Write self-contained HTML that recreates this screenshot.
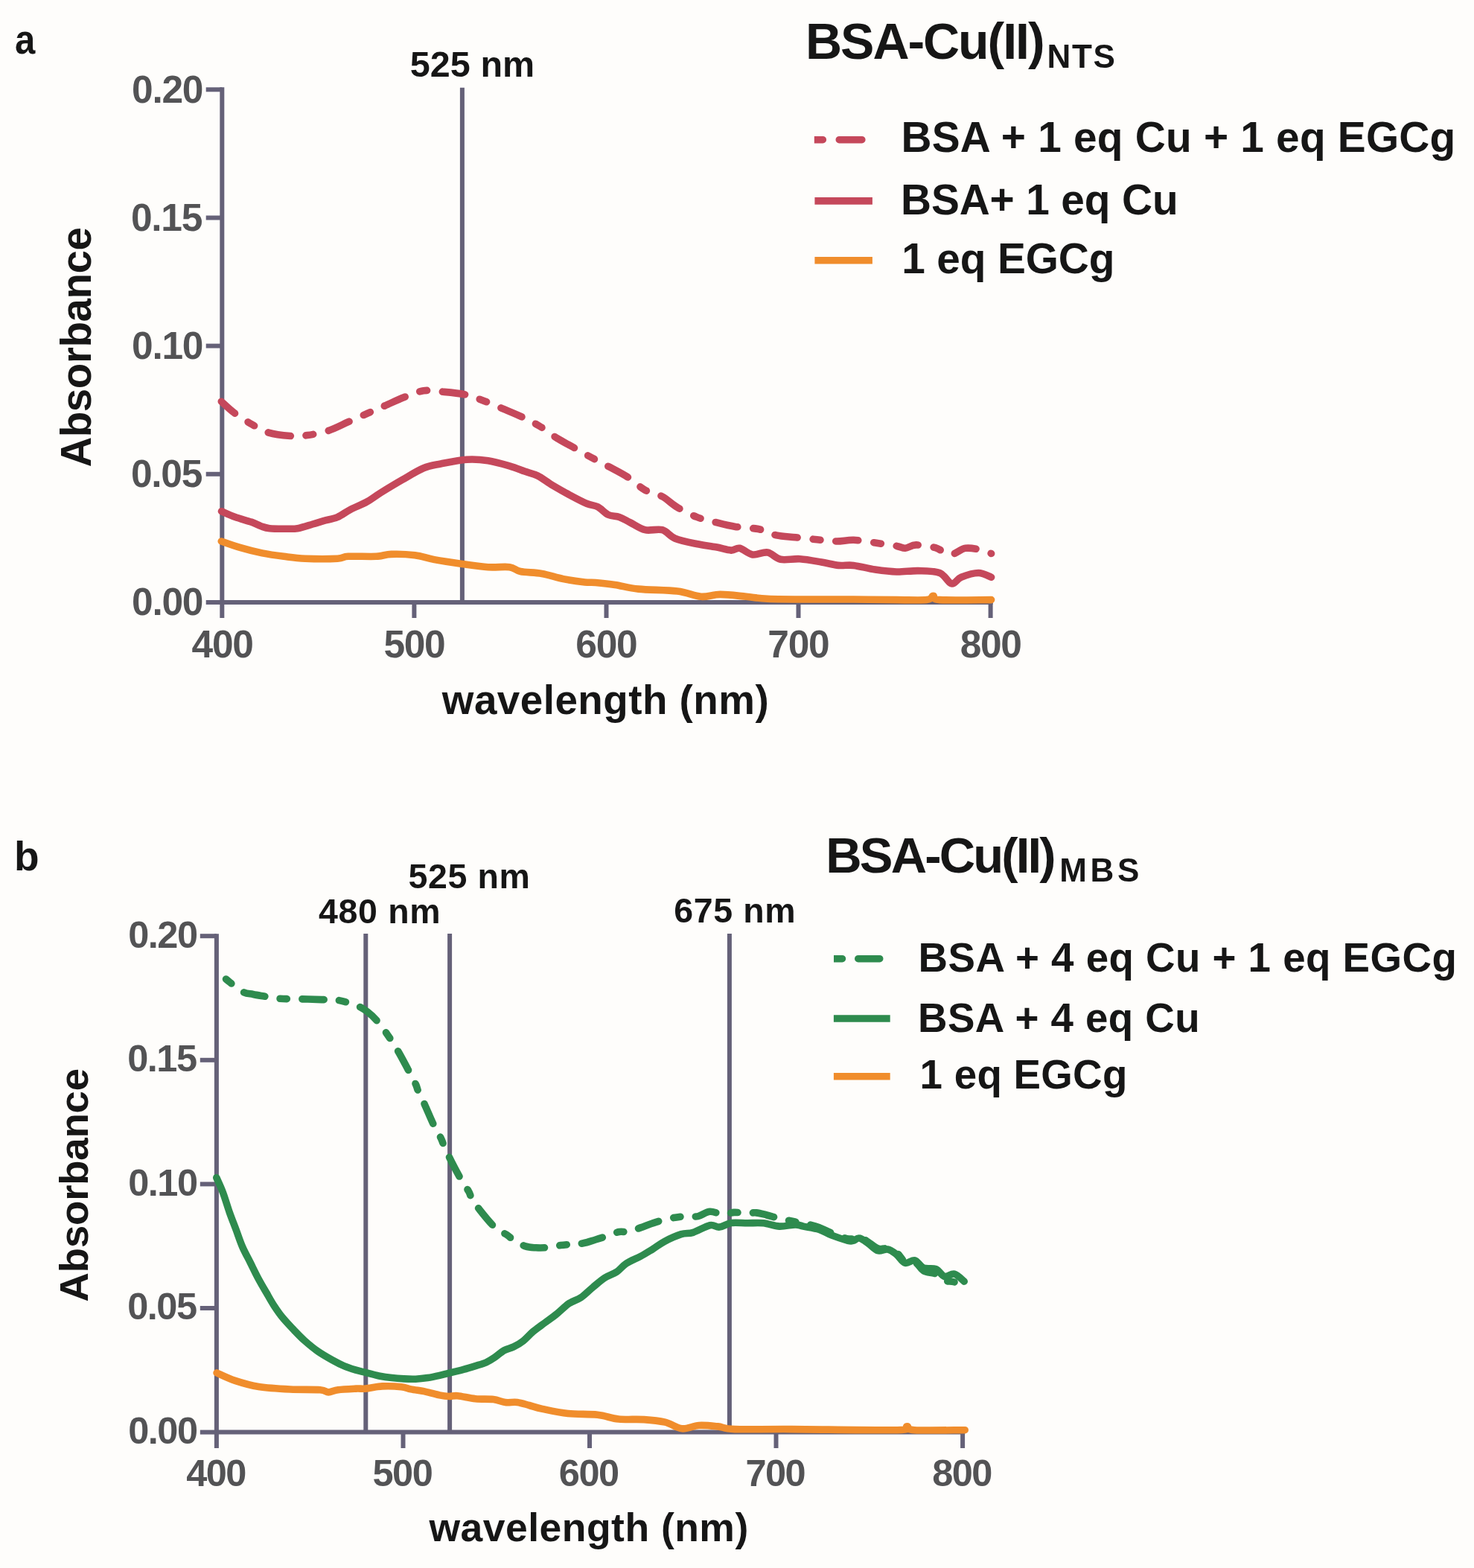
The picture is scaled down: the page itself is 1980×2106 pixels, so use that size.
<!DOCTYPE html>
<html><head><meta charset="utf-8"><title>BSA-Cu(II) absorbance spectra</title>
<style>html,body{margin:0;padding:0;background:#fefdfb;}svg{display:block}</style></head>
<body><svg width="1980" height="2106" viewBox="0 0 1980 2106">
<rect width="1980" height="2106" fill="#fefdfb"/>
<path d="M298.3,117.3 V830.0" stroke="#656178" stroke-width="6" fill="none"/>
<path d="M298.3,809.0 H1333.6" stroke="#656178" stroke-width="6" fill="none"/>
<path d="M276.7,809.0 H298.3" stroke="#656178" stroke-width="6" fill="none"/>
<path d="M276.7,636.8 H298.3" stroke="#656178" stroke-width="6" fill="none"/>
<path d="M276.7,464.6 H298.3" stroke="#656178" stroke-width="6" fill="none"/>
<path d="M276.7,292.5 H298.3" stroke="#656178" stroke-width="6" fill="none"/>
<path d="M276.7,120.3 H298.3" stroke="#656178" stroke-width="6" fill="none"/>
<path d="M556.4,809.0 V830.0" stroke="#656178" stroke-width="6" fill="none"/>
<path d="M814.5,809.0 V830.0" stroke="#656178" stroke-width="6" fill="none"/>
<path d="M1072.5,809.0 V830.0" stroke="#656178" stroke-width="6" fill="none"/>
<path d="M1330.6,809.0 V830.0" stroke="#656178" stroke-width="6" fill="none"/>
<path d="M620.9,117.8 V809.0" stroke="#656178" stroke-width="6" fill="none"/>
<text x="177.1" y="826.3" style="font-family:'Liberation Sans',Arial,sans-serif;font-weight:bold;font-size:51.5px;letter-spacing:-1.30px" fill="#535355">0.00</text>
<text x="176.0" y="654.1" style="font-family:'Liberation Sans',Arial,sans-serif;font-weight:bold;font-size:51.5px;letter-spacing:-1.30px" fill="#535355">0.05</text>
<text x="177.1" y="481.9" style="font-family:'Liberation Sans',Arial,sans-serif;font-weight:bold;font-size:51.5px;letter-spacing:-1.30px" fill="#535355">0.10</text>
<text x="176.0" y="309.7" style="font-family:'Liberation Sans',Arial,sans-serif;font-weight:bold;font-size:51.5px;letter-spacing:-1.30px" fill="#535355">0.15</text>
<text x="177.1" y="137.6" style="font-family:'Liberation Sans',Arial,sans-serif;font-weight:bold;font-size:51.5px;letter-spacing:-1.30px" fill="#535355">0.20</text>
<text x="257.6" y="882.7" style="font-family:'Liberation Sans',Arial,sans-serif;font-weight:bold;font-size:51.5px;letter-spacing:-1.30px" fill="#535355">400</text>
<text x="515.4" y="882.7" style="font-family:'Liberation Sans',Arial,sans-serif;font-weight:bold;font-size:51.5px;letter-spacing:-1.30px" fill="#535355">500</text>
<text x="773.3" y="882.7" style="font-family:'Liberation Sans',Arial,sans-serif;font-weight:bold;font-size:51.5px;letter-spacing:-1.30px" fill="#535355">600</text>
<text x="1031.3" y="882.7" style="font-family:'Liberation Sans',Arial,sans-serif;font-weight:bold;font-size:51.5px;letter-spacing:-1.30px" fill="#535355">700</text>
<text x="1289.7" y="882.7" style="font-family:'Liberation Sans',Arial,sans-serif;font-weight:bold;font-size:51.5px;letter-spacing:-1.30px" fill="#535355">800</text>
<path d="M297.3,727.0 C301.6,728.5 314.2,733.1 323.3,735.7 C332.4,738.4 342.6,741.0 352.2,742.9 C361.8,744.8 371.5,746.1 381.1,747.3 C390.7,748.5 397.9,749.7 410.0,750.2 C422.1,750.7 443.8,750.7 453.4,750.2 C463.0,749.7 459.1,747.8 467.8,747.3 C476.5,746.8 495.8,747.8 505.4,747.3 C515.0,746.8 516.9,744.6 525.6,744.4 C534.3,744.1 547.8,744.6 557.4,745.8 C567.0,747.0 572.8,749.7 583.4,751.6 C594.0,753.5 608.9,755.7 620.9,757.4 C632.9,759.1 645.0,761.0 655.6,761.7 C666.2,762.4 677.3,760.7 684.5,761.7 C691.7,762.7 691.8,766.0 699.0,767.5 C706.2,769.0 718.2,768.7 727.8,770.4 C737.4,772.1 747.1,775.7 756.7,777.6 C766.3,779.5 778.4,781.1 785.6,781.9 C792.8,782.7 793.3,781.9 800.0,782.5 C806.7,783.1 816.4,784.0 826.0,785.4 C835.6,786.8 843.8,789.7 857.8,791.1 C871.8,792.5 895.8,792.3 909.8,794.0 C923.8,795.7 932.0,800.6 941.6,801.3 C951.2,802.0 957.5,798.4 967.6,798.4 C977.7,798.4 991.7,800.3 1002.3,801.3 C1012.9,802.3 1016.7,803.6 1031.1,804.2 C1045.5,804.8 1069.6,804.9 1088.9,805.0 C1108.2,805.1 1127.4,804.9 1146.7,805.0 C1166.0,805.1 1188.1,805.5 1204.5,805.6 C1220.9,805.7 1236.8,806.5 1245.0,805.6 C1253.2,804.7 1250.7,800.4 1253.6,800.4 C1256.5,800.4 1249.3,804.7 1262.3,805.6 C1275.3,806.5 1320.0,805.6 1331.6,805.6" fill="none" stroke="#f08d2c" stroke-width="9.6" stroke-linejoin="round" stroke-linecap="round"/>
<path d="M297.5,686.8 C300.6,688.1 309.3,692.2 316.0,694.6 C322.7,697.0 331.9,699.1 337.7,701.1 C343.5,703.1 346.6,705.4 350.7,706.8 C354.8,708.2 356.7,709.1 362.2,709.7 C367.7,710.3 377.6,710.2 383.9,710.2 C390.2,710.2 393.8,710.7 399.8,709.7 C405.8,708.7 414.2,705.7 420.0,704.0 C425.8,702.3 429.0,701.2 434.5,699.6 C440.0,698.0 447.2,697.1 453.2,694.6 C459.2,692.1 464.1,687.8 470.6,684.4 C477.1,681.0 485.6,678.0 492.3,674.3 C499.1,670.6 503.2,666.9 511.1,662.0 C519.1,657.1 530.4,650.2 540.0,644.7 C549.6,639.2 560.2,632.4 568.9,628.8 C577.6,625.2 582.4,624.9 592.0,623.0 C601.6,621.1 616.1,617.9 626.7,617.2 C637.3,616.5 646.0,617.2 655.6,618.7 C665.2,620.2 676.3,623.5 684.5,625.9 C692.7,628.3 698.5,630.9 704.7,633.1 C711.0,635.3 715.7,635.8 722.0,638.9 C728.3,642.0 735.1,647.6 742.3,651.9 C749.5,656.2 757.7,660.8 765.4,664.9 C773.1,669.0 782.2,673.9 788.5,676.5 C794.8,679.1 798.2,678.3 803.0,680.8 C807.8,683.3 812.5,689.2 817.3,691.5 C822.1,693.8 827.0,692.7 831.8,694.4 C836.6,696.1 840.4,698.7 846.2,701.6 C852.0,704.5 859.3,710.0 866.5,711.7 C873.7,713.4 882.9,709.8 889.6,711.7 C896.3,713.6 899.2,720.1 906.9,723.2 C914.6,726.3 926.6,728.6 935.8,730.5 C944.9,732.4 954.1,733.4 961.8,734.8 C969.5,736.2 976.7,738.9 982.0,739.1 C987.3,739.4 988.8,735.3 993.6,736.3 C998.4,737.3 1004.6,743.9 1010.9,744.9 C1017.1,745.9 1024.8,740.9 1031.1,742.0 C1037.4,743.1 1041.3,749.8 1048.5,751.3 C1055.7,752.8 1065.3,750.1 1074.5,750.7 C1083.7,751.3 1094.7,753.5 1103.4,755.0 C1112.1,756.5 1119.3,758.7 1126.5,759.4 C1133.7,760.1 1138.5,758.4 1146.7,759.4 C1154.9,760.4 1166.0,763.7 1175.6,765.1 C1185.2,766.5 1194.9,767.8 1204.5,768.0 C1214.1,768.2 1223.8,766.4 1233.4,766.6 C1243.0,766.9 1254.8,766.6 1262.3,769.5 C1269.8,772.4 1273.4,782.9 1278.2,783.9 C1283.0,784.9 1285.2,777.7 1291.2,775.3 C1297.2,772.9 1307.6,769.5 1314.3,769.5 C1321.0,769.5 1328.7,774.3 1331.6,775.3" fill="none" stroke="#c5485b" stroke-width="9.6" stroke-linejoin="round" stroke-linecap="round"/>
<path d="M297.3,539.2 C300.2,541.8 307.9,549.4 314.7,554.5 C321.4,559.6 330.1,565.2 337.8,569.6 C345.5,574.0 352.2,578.5 360.9,581.1 C369.6,583.8 381.1,584.9 389.8,585.5 C398.5,586.1 404.2,585.8 412.9,584.6 C421.6,583.4 432.6,581.2 441.8,578.2 C451.0,575.2 459.1,570.6 467.8,566.7 C476.5,562.9 485.6,558.7 493.8,555.1 C502.0,551.5 508.7,548.6 516.9,545.0 C525.1,541.4 534.2,536.9 542.9,533.5 C551.6,530.1 560.2,526.0 568.9,524.8 C577.6,523.6 585.8,525.4 594.9,526.2 C604.0,527.0 615.1,527.9 623.8,529.7 C632.5,531.5 638.7,534.2 646.9,537.2 C655.1,540.2 663.9,544.0 673.0,547.9 C682.1,551.8 693.1,556.2 701.8,560.3 C710.5,564.4 717.3,567.8 725.0,572.5 C732.7,577.2 740.3,583.6 748.0,588.4 C755.7,593.2 763.5,597.1 771.2,601.4 C778.9,605.7 786.6,610.2 794.3,614.4 C802.0,618.6 809.1,622.1 817.3,626.5 C825.5,630.9 835.1,635.6 843.3,640.9 C851.5,646.2 858.8,653.9 866.5,658.2 C874.2,662.5 882.4,663.0 889.6,666.9 C896.8,670.8 902.1,676.8 909.8,681.4 C917.5,686.0 927.1,691.0 935.8,694.4 C944.5,697.8 953.1,699.4 961.8,701.6 C970.5,703.8 978.2,705.9 987.8,707.4 C997.4,708.9 1010.5,708.9 1019.6,710.8 C1028.8,712.7 1034.5,717.1 1042.7,718.9 C1050.9,720.7 1059.6,720.8 1068.7,721.8 C1077.8,722.8 1088.4,723.8 1097.6,724.7 C1106.8,725.6 1115.4,726.9 1123.6,727.0 C1131.8,727.1 1138.0,725.0 1146.7,725.3 C1155.4,725.6 1166.0,727.6 1175.6,729.0 C1185.2,730.4 1197.8,732.2 1204.5,733.4 C1211.2,734.6 1211.7,736.5 1216.0,736.3 C1220.3,736.0 1223.8,732.0 1230.5,731.9 C1237.2,731.8 1248.8,733.5 1256.5,735.7 C1264.2,737.9 1270.0,744.8 1276.7,744.9 C1283.5,745.0 1289.8,737.3 1297.0,736.3 C1304.2,735.3 1314.2,737.9 1320.0,739.1 C1325.8,740.3 1329.7,742.8 1331.6,743.5" fill="none" stroke="#c5485b" stroke-width="9.6" stroke-linejoin="round" stroke-linecap="round" stroke-dasharray="30.4 20.9 9.9 20.9" stroke-dashoffset="6.1"/>
<path d="M290.9,1254.3 V1945.0" stroke="#656178" stroke-width="6" fill="none"/>
<path d="M290.9,1923.6 H1296.1" stroke="#656178" stroke-width="6" fill="none"/>
<path d="M268.8,1923.6 H290.9" stroke="#656178" stroke-width="6" fill="none"/>
<path d="M268.8,1757.0 H290.9" stroke="#656178" stroke-width="6" fill="none"/>
<path d="M268.8,1590.4 H290.9" stroke="#656178" stroke-width="6" fill="none"/>
<path d="M268.8,1423.8 H290.9" stroke="#656178" stroke-width="6" fill="none"/>
<path d="M268.8,1257.2 H290.9" stroke="#656178" stroke-width="6" fill="none"/>
<path d="M541.5,1923.6 V1945.0" stroke="#656178" stroke-width="6" fill="none"/>
<path d="M792.0,1923.6 V1945.0" stroke="#656178" stroke-width="6" fill="none"/>
<path d="M1042.5,1923.6 V1945.0" stroke="#656178" stroke-width="6" fill="none"/>
<path d="M1293.1,1923.6 V1945.0" stroke="#656178" stroke-width="6" fill="none"/>
<path d="M491.3,1254.0 V1923.6" stroke="#656178" stroke-width="6" fill="none"/>
<path d="M604.1,1254.0 V1923.6" stroke="#656178" stroke-width="6" fill="none"/>
<path d="M979.9,1254.0 V1923.6" stroke="#656178" stroke-width="6" fill="none"/>
<text x="172.2" y="1939.0" style="font-family:'Liberation Sans',Arial,sans-serif;font-weight:bold;font-size:50.5px;letter-spacing:-1.50px" fill="#535355">0.00</text>
<text x="171.2" y="1772.4" style="font-family:'Liberation Sans',Arial,sans-serif;font-weight:bold;font-size:50.5px;letter-spacing:-1.50px" fill="#535355">0.05</text>
<text x="172.2" y="1605.8" style="font-family:'Liberation Sans',Arial,sans-serif;font-weight:bold;font-size:50.5px;letter-spacing:-1.50px" fill="#535355">0.10</text>
<text x="171.2" y="1439.2" style="font-family:'Liberation Sans',Arial,sans-serif;font-weight:bold;font-size:50.5px;letter-spacing:-1.50px" fill="#535355">0.15</text>
<text x="172.2" y="1272.6" style="font-family:'Liberation Sans',Arial,sans-serif;font-weight:bold;font-size:50.5px;letter-spacing:-1.50px" fill="#535355">0.20</text>
<text x="250.2" y="1995.7" style="font-family:'Liberation Sans',Arial,sans-serif;font-weight:bold;font-size:50.5px;letter-spacing:-1.50px" fill="#535355">400</text>
<text x="500.5" y="1995.7" style="font-family:'Liberation Sans',Arial,sans-serif;font-weight:bold;font-size:50.5px;letter-spacing:-1.50px" fill="#535355">500</text>
<text x="750.8" y="1995.7" style="font-family:'Liberation Sans',Arial,sans-serif;font-weight:bold;font-size:50.5px;letter-spacing:-1.50px" fill="#535355">600</text>
<text x="1001.4" y="1995.7" style="font-family:'Liberation Sans',Arial,sans-serif;font-weight:bold;font-size:50.5px;letter-spacing:-1.50px" fill="#535355">700</text>
<text x="1252.2" y="1995.7" style="font-family:'Liberation Sans',Arial,sans-serif;font-weight:bold;font-size:50.5px;letter-spacing:-1.50px" fill="#535355">800</text>
<path d="M291.1,1843.9 C295.2,1845.7 306.4,1851.3 315.8,1854.4 C325.2,1857.5 335.2,1860.6 347.5,1862.5 C359.8,1864.4 375.9,1865.3 389.7,1866.0 C403.4,1866.7 421.4,1866.0 430.0,1866.7 C438.6,1867.4 437.2,1869.9 441.2,1869.9 C445.2,1869.9 447.9,1867.5 454.1,1866.7 C460.3,1865.9 472.1,1865.4 478.2,1865.1 C484.3,1864.8 485.1,1865.6 491.0,1865.1 C496.9,1864.6 505.5,1862.3 513.5,1861.9 C521.5,1861.5 532.7,1862.0 539.1,1862.7 C545.5,1863.4 546.6,1864.8 552.0,1865.9 C557.4,1867.0 564.9,1867.8 571.3,1869.1 C577.7,1870.4 585.1,1872.8 590.5,1873.9 C595.9,1875.0 599.4,1875.4 603.4,1875.5 C607.4,1875.6 608.7,1874.2 614.6,1874.7 C620.5,1875.2 630.7,1877.9 638.7,1878.7 C646.7,1879.5 656.0,1878.7 662.7,1879.5 C669.4,1880.3 673.4,1882.8 678.8,1883.5 C684.1,1884.2 689.4,1882.8 694.8,1883.5 C700.1,1884.2 705.3,1886.0 710.9,1887.5 C716.5,1889.0 719.9,1890.6 728.6,1892.4 C737.3,1894.2 750.6,1897.2 763.0,1898.5 C775.4,1899.8 791.4,1899.0 802.7,1900.3 C814.0,1901.5 820.6,1905.0 831.0,1906.0 C841.4,1907.0 854.7,1905.9 865.1,1906.6 C875.5,1907.3 884.9,1908.2 893.4,1910.2 C901.9,1912.2 908.5,1918.1 916.1,1918.8 C923.7,1919.5 930.8,1915.0 938.8,1914.5 C946.8,1914.0 956.3,1915.1 964.3,1915.9 C972.3,1916.8 970.5,1919.0 987.0,1919.6 C1003.5,1920.2 1027.2,1919.4 1063.6,1919.6 C1100.0,1919.8 1179.6,1921.3 1205.4,1920.7 C1231.2,1920.1 1214.4,1915.9 1218.2,1915.9 C1222.0,1915.9 1215.1,1919.9 1228.1,1920.7 C1241.1,1921.5 1284.8,1920.7 1296.2,1920.7" fill="none" stroke="#f08d2c" stroke-width="9.6" stroke-linejoin="round" stroke-linecap="round"/>
<path d="M290.8,1581.7 C292.3,1585.1 296.7,1594.3 299.6,1602.1 C302.5,1609.9 305.4,1620.1 308.3,1628.4 C311.2,1636.7 314.2,1643.9 317.1,1651.7 C320.0,1659.5 322.6,1667.7 325.8,1675.0 C329.0,1682.3 332.7,1688.7 336.1,1695.5 C339.5,1702.3 342.7,1709.1 346.3,1715.9 C349.9,1722.7 354.2,1730.0 357.9,1736.3 C361.5,1742.6 364.5,1748.2 368.2,1753.8 C371.9,1759.4 375.4,1764.6 379.8,1769.9 C384.2,1775.2 389.5,1780.8 394.4,1785.9 C399.3,1791.0 403.6,1795.7 409.0,1800.5 C414.4,1805.3 420.8,1810.7 427.0,1815.0 C433.2,1819.3 440.1,1823.2 446.0,1826.5 C451.9,1829.8 456.7,1832.3 462.1,1834.6 C467.5,1836.9 473.4,1838.7 478.2,1840.2 C483.0,1841.7 485.6,1842.1 491.0,1843.4 C496.4,1844.7 504.4,1847.0 510.3,1848.2 C516.2,1849.4 520.9,1850.0 526.3,1850.6 C531.6,1851.2 537.0,1851.6 542.4,1851.9 C547.8,1852.2 553.0,1852.4 558.4,1852.2 C563.8,1852.0 569.1,1851.4 574.5,1850.6 C579.9,1849.8 585.7,1848.5 590.5,1847.4 C595.3,1846.3 598.0,1845.5 603.4,1844.2 C608.8,1842.9 616.7,1841.0 622.6,1839.4 C628.5,1837.8 633.6,1836.2 638.7,1834.6 C643.8,1833.0 648.8,1831.7 653.1,1829.8 C657.4,1827.9 660.3,1826.0 664.3,1823.3 C668.3,1820.6 672.9,1816.1 677.2,1813.7 C681.5,1811.3 685.7,1811.0 690.0,1808.9 C694.3,1806.8 698.6,1804.3 702.9,1800.9 C707.2,1797.5 711.1,1792.6 716.0,1788.5 C720.9,1784.4 726.7,1780.5 732.1,1776.5 C737.5,1772.5 742.9,1768.8 748.2,1764.5 C753.6,1760.2 758.9,1754.4 764.2,1750.8 C769.6,1747.2 774.9,1746.4 780.3,1742.8 C785.6,1739.2 790.9,1733.5 796.3,1729.1 C801.6,1724.7 807.0,1719.8 812.4,1716.3 C817.8,1712.8 823.6,1711.5 828.4,1708.3 C833.2,1705.1 835.9,1700.5 841.3,1697.0 C846.6,1693.5 854.6,1690.6 860.5,1687.4 C866.4,1684.2 871.2,1681.1 876.6,1677.8 C882.0,1674.5 886.2,1670.8 892.6,1667.4 C899.0,1664.1 908.7,1659.7 915.1,1657.7 C921.5,1655.7 924.7,1657.3 931.1,1655.3 C937.5,1653.3 947.7,1646.9 953.6,1645.7 C959.5,1644.5 961.7,1648.6 966.5,1648.1 C971.3,1647.6 976.2,1643.4 982.5,1642.5 C988.8,1641.6 997.0,1642.8 1004.2,1642.8 C1011.4,1642.8 1018.5,1642.1 1025.6,1642.8 C1032.7,1643.5 1039.9,1646.8 1047.0,1647.1 C1054.1,1647.4 1063.1,1644.9 1068.4,1644.9 C1073.8,1644.9 1073.8,1646.0 1079.1,1647.1 C1084.4,1648.2 1094.2,1649.4 1100.5,1651.4 C1106.8,1653.4 1110.2,1656.4 1116.6,1658.9 C1123.0,1661.4 1134.1,1665.0 1139.0,1666.3 C1143.9,1667.5 1143.5,1666.9 1146.0,1666.4 C1148.5,1665.9 1151.0,1662.5 1154.3,1663.1 C1157.6,1663.6 1161.8,1666.9 1165.9,1669.7 C1170.0,1672.5 1174.7,1678.3 1179.1,1679.7 C1183.5,1681.1 1188.2,1677.2 1192.4,1678.0 C1196.6,1678.8 1200.1,1681.6 1204.0,1684.6 C1207.9,1687.6 1211.4,1694.8 1215.6,1696.2 C1219.8,1697.6 1224.8,1691.8 1228.9,1692.9 C1233.1,1694.0 1235.8,1701.0 1240.5,1702.9 C1245.2,1704.8 1252.4,1702.6 1257.1,1704.5 C1261.8,1706.4 1264.5,1713.4 1268.7,1714.5 C1272.9,1715.6 1277.6,1710.1 1282.0,1711.2 C1286.4,1712.3 1293.0,1719.4 1295.2,1721.1" fill="none" stroke="#2e8b4e" stroke-width="9.6" stroke-linejoin="round" stroke-linecap="round"/>
<path d="M298.2,1310.4 C299.9,1311.9 304.0,1315.6 308.7,1319.2 C313.4,1322.8 321.1,1329.6 326.3,1332.3 C331.5,1335.0 335.3,1334.5 340.0,1335.5 C344.7,1336.5 348.7,1337.1 354.6,1338.1 C360.5,1339.0 367.4,1340.6 375.6,1341.2 C383.8,1341.8 394.4,1341.6 403.8,1341.8 C413.2,1342.0 424.2,1342.4 432.0,1342.6 C439.8,1342.8 445.2,1342.5 450.6,1343.0 C456.0,1343.5 459.6,1344.5 464.5,1345.8 C469.4,1347.1 474.9,1348.4 479.8,1350.6 C484.7,1352.8 489.3,1355.6 493.7,1359.0 C498.1,1362.4 501.8,1365.7 506.2,1370.8 C510.6,1375.9 515.6,1382.7 520.3,1389.4 C525.0,1396.1 529.6,1403.3 534.3,1411.2 C539.0,1419.1 544.3,1429.4 548.3,1436.9 C552.3,1444.4 556.3,1451.7 558.5,1456.4 C560.7,1461.1 559.6,1460.6 561.6,1465.0 C563.6,1469.4 566.7,1475.2 570.2,1482.9 C573.7,1490.6 579.0,1503.5 582.6,1511.0 C586.2,1518.5 589.8,1523.7 592.0,1528.1 C594.2,1532.5 593.9,1533.1 595.9,1537.5 C597.9,1541.9 600.1,1547.3 603.7,1554.6 C607.3,1561.9 613.4,1573.7 617.7,1581.2 C622.0,1588.8 626.8,1595.4 629.4,1599.9 C632.0,1604.4 630.8,1604.2 633.3,1608.4 C635.8,1612.6 639.0,1618.2 644.2,1624.8 C649.4,1631.4 658.2,1642.5 664.5,1648.2 C670.8,1653.9 677.5,1656.2 681.7,1659.1 C685.9,1662.0 685.5,1662.9 689.5,1665.4 C693.5,1667.9 700.7,1672.2 705.8,1673.9 C710.9,1675.6 714.9,1675.5 720.0,1675.8 C725.1,1676.1 730.7,1676.0 736.2,1675.5 C741.7,1675.0 747.5,1673.3 753.0,1672.6 C758.5,1671.8 763.9,1671.5 769.0,1671.0 C774.1,1670.5 778.3,1670.8 783.5,1669.8 C788.7,1668.8 794.6,1666.6 800.0,1665.0 C805.4,1663.4 810.3,1661.8 815.6,1660.1 C820.9,1658.3 826.8,1655.4 831.6,1654.5 C836.4,1653.6 839.7,1655.4 844.5,1654.5 C849.3,1653.6 855.4,1650.7 860.5,1648.9 C865.6,1647.1 869.9,1645.2 875.0,1643.5 C880.1,1641.8 885.6,1639.9 891.0,1638.5 C896.4,1637.1 902.0,1636.0 907.1,1635.2 C912.2,1634.4 916.4,1633.9 921.5,1633.6 C926.6,1633.3 932.2,1634.7 937.6,1633.6 C943.0,1632.5 948.0,1627.6 953.6,1627.2 C959.2,1626.8 965.9,1631.0 971.3,1631.2 C976.7,1631.4 981.0,1628.7 986.0,1628.4 C991.0,1628.1 996.0,1629.3 1001.0,1629.4 C1006.0,1629.5 1011.2,1628.5 1016.0,1628.9 C1020.8,1629.3 1024.8,1630.7 1030.0,1632.0 C1035.2,1633.3 1040.7,1635.0 1047.0,1636.5 C1053.3,1638.0 1062.5,1639.9 1068.0,1641.0 C1073.5,1642.1 1074.7,1641.8 1080.0,1643.0 C1085.3,1644.2 1093.8,1646.3 1100.0,1648.5 C1106.2,1650.7 1110.3,1653.4 1117.0,1656.0 C1123.7,1658.6 1133.7,1663.1 1140.0,1664.0 C1146.3,1664.9 1150.7,1660.8 1155.0,1661.5 C1159.3,1662.2 1161.8,1665.4 1166.0,1668.0 C1170.2,1670.6 1175.5,1675.5 1180.0,1677.0 C1184.5,1678.5 1188.8,1676.0 1193.0,1677.0 C1197.2,1678.0 1201.2,1680.0 1205.0,1683.0 C1208.8,1686.0 1211.8,1692.8 1216.0,1695.0 C1220.2,1697.2 1225.8,1694.0 1230.0,1696.0 C1234.2,1698.0 1236.5,1704.5 1241.0,1707.0 C1245.5,1709.5 1252.3,1708.8 1257.0,1711.0 C1261.7,1713.2 1264.8,1718.2 1269.0,1720.0 C1273.2,1721.8 1278.0,1720.1 1282.0,1722.0 C1286.0,1723.9 1291.4,1730.0 1293.3,1731.6" fill="none" stroke="#2e8b4e" stroke-width="9.6" stroke-linejoin="round" stroke-linecap="round" stroke-dasharray="29 20.4 9.4 20.4" stroke-dashoffset="42.2"/>
<text transform="translate(20.1,72.1) scale(0.884,1)" style="font-family:'Liberation Sans',Arial,sans-serif;font-weight:bold;font-size:55.5px" fill="#161616">a</text>
<text x="18.9" y="1169.1" style="font-family:'Liberation Sans',Arial,sans-serif;font-weight:bold;font-size:55.0px;letter-spacing:0.00px" fill="#161616">b</text>
<text x="550.8" y="102.7" style="font-family:'Liberation Sans',Arial,sans-serif;font-weight:bold;font-size:48.5px;letter-spacing:0.05px" fill="#161616">525 nm</text>
<text x="548.6" y="1192.7" style="font-family:'Liberation Sans',Arial,sans-serif;font-weight:bold;font-size:46.5px;letter-spacing:0.62px" fill="#161616">525 nm</text>
<text x="427.9" y="1239.5" style="font-family:'Liberation Sans',Arial,sans-serif;font-weight:bold;font-size:46.5px;letter-spacing:0.69px" fill="#161616">480 nm</text>
<text x="905.2" y="1238.8" style="font-family:'Liberation Sans',Arial,sans-serif;font-weight:bold;font-size:46.5px;letter-spacing:0.62px" fill="#161616">675 nm</text>
<text x="1082.0" y="79.2" style="font-family:'Liberation Sans',Arial,sans-serif;font-weight:bold;font-size:68.0px;letter-spacing:-2.04px" fill="#161616">BSA-Cu(II)</text>
<text x="1406.4" y="90.5" style="font-family:'Liberation Sans',Arial,sans-serif;font-weight:bold;font-size:44.0px;letter-spacing:1.77px" fill="#161616">NTS</text>
<text x="1109.3" y="1172.3" style="font-family:'Liberation Sans',Arial,sans-serif;font-weight:bold;font-size:67.0px;letter-spacing:-2.84px" fill="#161616">BSA-Cu(II)</text>
<text x="1423.2" y="1184.3" style="font-family:'Liberation Sans',Arial,sans-serif;font-weight:bold;font-size:44.0px;letter-spacing:4.73px" fill="#161616">MBS</text>
<clipPath id="cla"><rect x="1093.8" y="170" width="100" height="40"/></clipPath>
<path clip-path="url(#cla)" d="M1090,187.7 H1105.3 M1127.3,187.7 H1157.8" stroke="#c5485b" stroke-width="9.6" stroke-linecap="round" fill="none"/>
<path d="M1094.4,269.9 H1171.9" stroke="#c5485b" stroke-width="9.6" fill="none"/>
<path d="M1094.4,349.7 H1171.9" stroke="#f08d2c" stroke-width="9.6" fill="none"/>
<text x="1210.4" y="204.3" style="font-family:'Liberation Sans',Arial,sans-serif;font-weight:bold;font-size:56.8px;letter-spacing:0.22px" fill="#161616">BSA + 1 eq Cu + 1 eq EGCg</text>
<text x="1210.0" y="288.2" style="font-family:'Liberation Sans',Arial,sans-serif;font-weight:bold;font-size:56.8px;letter-spacing:-0.13px" fill="#161616">BSA+ 1 eq Cu</text>
<text x="1211.2" y="366.8" style="font-family:'Liberation Sans',Arial,sans-serif;font-weight:bold;font-size:56.8px;letter-spacing:-0.13px" fill="#161616">1 eq EGCg</text>
<clipPath id="clb"><rect x="1119.9" y="1270" width="100" height="40"/></clipPath>
<path clip-path="url(#clb)" d="M1115,1287.7 H1131.4 M1152.8,1287.7 H1181.7" stroke="#2e8b4e" stroke-width="9.6" stroke-linecap="round" fill="none"/>
<path d="M1119.9,1368 H1195.7" stroke="#2e8b4e" stroke-width="9.6" fill="none"/>
<path d="M1119.9,1445.7 H1195.7" stroke="#f08d2c" stroke-width="9.6" fill="none"/>
<text x="1233.5" y="1304.7" style="font-family:'Liberation Sans',Arial,sans-serif;font-weight:bold;font-size:54.7px;letter-spacing:0.47px" fill="#161616">BSA + 4 eq Cu + 1 eq EGCg</text>
<text x="1233.0" y="1385.7" style="font-family:'Liberation Sans',Arial,sans-serif;font-weight:bold;font-size:54.7px;letter-spacing:0.45px" fill="#161616">BSA + 4 eq Cu</text>
<text x="1235.6" y="1462.4" style="font-family:'Liberation Sans',Arial,sans-serif;font-weight:bold;font-size:54.7px;letter-spacing:0.27px" fill="#161616">1 eq EGCg</text>
<text transform="translate(121.6,627.6) rotate(-90)" style="font-family:'Liberation Sans',Arial,sans-serif;font-weight:bold;font-size:56.5px;letter-spacing:-0.44px" fill="#161616">Absorbance</text>
<text transform="translate(118.3,1748.4) rotate(-90)" style="font-family:'Liberation Sans',Arial,sans-serif;font-weight:bold;font-size:54.5px;letter-spacing:-0.17px" fill="#161616">Absorbance</text>
<text x="593.8" y="958.8" style="font-family:'Liberation Sans',Arial,sans-serif;font-weight:bold;font-size:54.8px;letter-spacing:0.47px" fill="#161616">wavelength (nm)</text>
<text x="576.4" y="2070.4" style="font-family:'Liberation Sans',Arial,sans-serif;font-weight:bold;font-size:53.5px;letter-spacing:0.48px" fill="#161616">wavelength (nm)</text>
</svg></body></html>
